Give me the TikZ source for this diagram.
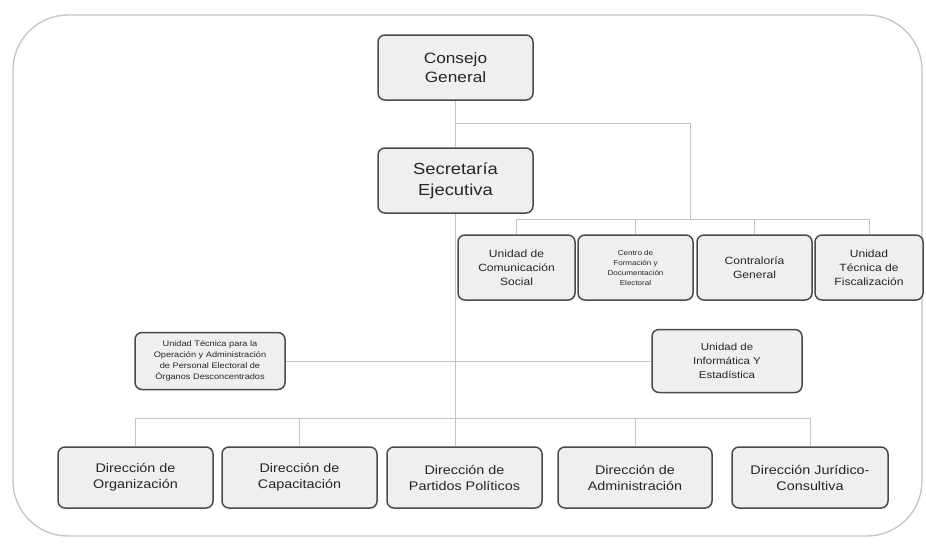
\documentclass[tikz,border=0pt]{standalone}
\usepackage{fontspec}
\setmainfont{Liberation Sans}[FakeStretch=1.15]
\definecolor{boxfill}{HTML}{EFEFEF}
\definecolor{boxline}{HTML}{4A4A4A}
\definecolor{linegray}{HTML}{C4C4C4}

\begin{document}
\begin{tikzpicture}[x=1pt,y=-1pt]
  \tikzstyle{box}=[draw=boxline,fill=boxfill,line width=1.5pt,rounded corners=7pt,
                   align=center,inner sep=2pt,text=black!85]
  \tikzstyle{top}=[box,minimum width=155pt,minimum height=65pt]
  \tikzstyle{unit}=[box,minimum width=115pt,minimum height=65pt,font=\fontsize{10.5}{14}\selectfont]
  \tikzstyle{dir}=[box,minimum width=155pt,minimum height=61pt,font=\fontsize{12.5}{16}\selectfont]
  \tikzstyle{conn}=[draw=linegray,line width=0.8pt]

  \useasboundingbox (0,0) rectangle (926,546);
  \draw[linegray,line width=1.3pt,rounded corners=55pt] (13,15) rectangle (922,536);

  \node[top,font=\fontsize{15}{19}\selectfont] (CG) at (455.5,67.5) {Consejo\\General};
  \node[top,font=\fontsize{16}{21}\selectfont] (SE) at (455.5,180.5) {Secretaría\\Ejecutiva};

  \node[unit,minimum width=117pt] (UCS) at (516.5,267.5) {Unidad de\\Comunicación\\Social};
  \node[unit,font=\fontsize{7}{10}\selectfont] (CFD) at (635.5,267.5)
       {Centro de\\Formación y\\Documentación\\Electoral};
  \node[unit] (CON) at (754.5,267.5) {Contraloría\\General};
  \node[unit,minimum width=108pt] (UTF) at (869,267.5) {Unidad\\Técnica de\\Fiscalización};

  \node[box,minimum width=150pt,minimum height=57pt,font=\fontsize{8}{11}\selectfont] (UTO) at (210,361)
       {Unidad Técnica para la\\Operación y Administración\\de Personal Electoral de\\Órganos Desconcentrados};
  \node[box,minimum width=150pt,minimum height=63pt,font=\fontsize{10}{14}\selectfont] (UIE) at (727,361)
       {Unidad de\\Informática Y\\Estadística};

  \node[dir] (DO) at (135.5,477.5) {Dirección de\\Organización};
  \node[dir] (DC) at (299.5,477.5) {Dirección de\\Capacitación};
  \node[dir] (DP) at (464.5,477.5) {Dirección de\\Partidos Políticos};
  \node[dir,minimum width=154pt] (DA) at (635,477.5) {Dirección de\\Administración};
  \node[dir,minimum width=156pt] (DJ) at (810,477.5) {Dirección Jurídico-\\Consultiva};

  % junctions of the buses
  \coordinate (cgr) at (690,123);
  \coordinate (ubus) at (690,219);
  \coordinate (dbus) at (455.5,418);

  \draw[conn] (CG.south) -- (SE.north);
  \draw[conn] (CG.south |- cgr) -- (cgr) -- (ubus);
  \draw[conn] (UCS.north) |- (ubus);
  \draw[conn] (CFD.north) |- (ubus);
  \draw[conn] (CON.north) |- (ubus);
  \draw[conn] (UTF.north) |- (ubus);
  \draw[conn] (SE.south) -- (SE.south |- DP.north);
  \draw[conn] (UTO.east) -- (UIE.west);
  \draw[conn] (DO.north) |- (dbus);
  \draw[conn] (DC.north) |- (dbus);
  \draw[conn] (DA.north) |- (dbus);
  \draw[conn] (DJ.north) |- (dbus);
\end{tikzpicture}
\end{document}
